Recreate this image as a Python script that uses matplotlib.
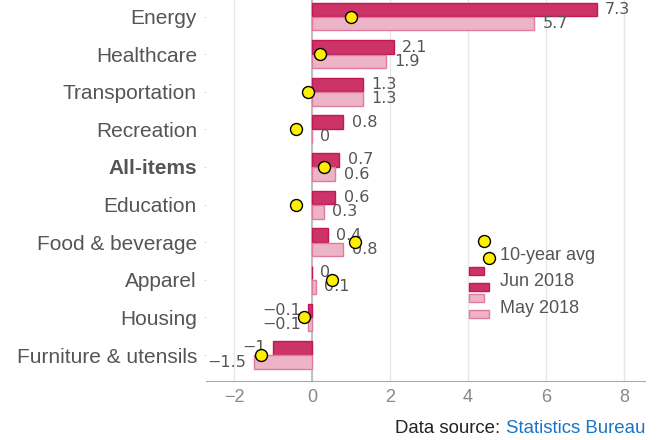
import matplotlib
matplotlib.use('Agg')
import matplotlib.pyplot as plt
import numpy as np
from matplotlib.legend_handler import HandlerBase
from matplotlib.patches import Rectangle
from matplotlib.lines import Line2D

# values (percent change)
categories = ['Energy', 'Healthcare', 'Transportation', 'Recreation', 'All-items',
              'Education', 'Food & beverage', 'Apparel', 'Housing', 'Furniture & utensils']
jun_2018 = [7.3, 2.1, 1.3, 0.8, 0.7, 0.6, 0.4, 0, -0.1, -1]
may_2018 = [5.7, 1.9, 1.3, 0, 0.6, 0.3, 0.8, 0.1, -0.1, -1.5]
avg_10yr = [1.0, 0.2, -0.1, -0.4, 0.3, -0.4, 1.1, 0.5, -0.2, -1.3]
xticks = [-2, 0, 2, 4, 6, 8]

JUN_FACE, JUN_EDGE = '#cc3366', '#c2185b'
MAY_FACE, MAY_EDGE = '#edb3c7', '#e07a9e'
DOT_FACE = '#ffee00'
TXT = '#555555'


class PairHandler(HandlerBase):
    # legend handle drawn as two offset copies, as in the reference
    def create_artists(self, legend, orig_handle, xdescent, ydescent,
                       width, height, fontsize, trans):
        x0 = -xdescent
        cy = height / 2 - ydescent
        if isinstance(orig_handle, Line2D):
            out = []
            for dx, dy in [(10.8, 8.6), (14.4, -3.6)]:
                out.append(Line2D([x0 + dx], [cy + dy], marker='o', ls='none',
                                  markersize=8.6, markerfacecolor=DOT_FACE,
                                  markeredgecolor='black', markeredgewidth=1,
                                  transform=trans))
            return out
        fc = orig_handle.get_facecolor()
        ec = orig_handle.get_edgecolor()
        r1 = Rectangle((x0, cy + 3.6), 10.8, 5.8, facecolor=fc, edgecolor=ec,
                       lw=1, transform=trans)
        r2 = Rectangle((x0, cy - 7.9), 14.4, 5.8, facecolor=fc, edgecolor=ec,
                       lw=1, transform=trans)
        return [r1, r2]


def fmt(v):
    return ('{:g}'.format(v)).replace('-', '\u2212')


fig = plt.figure(figsize=(6.57, 4.4), dpi=100)
ax = fig.add_axes([206 / 657, 59 / 440, 439 / 657, 381 / 440])

y = np.arange(len(categories))
h = 0.36
ax.barh(y - 0.19, jun_2018, height=h, color=JUN_FACE, edgecolor=JUN_EDGE,
        lw=1, zorder=3, label='Jun 2018')
ax.barh(y + 0.19, may_2018, height=h, color=MAY_FACE, edgecolor=MAY_EDGE,
        lw=1, zorder=3, label='May 2018')
ax.scatter(avg_10yr, y, s=74, c=DOT_FACE, edgecolors='black', linewidths=1,
           zorder=6, label='10-year avg')

for yy, v in zip(y - 0.19, jun_2018):
    ax.annotate(fmt(v), (v, yy), xytext=(6 if v >= 0 else -5, 0),
                textcoords='offset points', ha='left' if v >= 0 else 'right',
                va='center', fontsize=11.5, color=TXT, family='DejaVu Sans', zorder=5)
for yy, v in zip(y + 0.19, may_2018):
    ax.annotate(fmt(v), (v, yy), xytext=(6 if v >= 0 else -5, 0),
                textcoords='offset points', ha='left' if v >= 0 else 'right',
                va='center', fontsize=11.5, color=TXT, family='DejaVu Sans', zorder=5)

ax.set_xlim(-2.72, 8.54)
ax.set_ylim(9.69, -0.44)
ax.set_xticks(xticks)
ax.set_xticklabels([fmt(t) for t in xticks], family='Liberation Sans',
                   fontsize=13, color='#888888')
ax.set_yticks(y)
ax.set_yticklabels(categories, family='Liberation Sans', fontsize=15, color=TXT)
ax.get_yticklabels()[4].set_fontweight('bold')
ax.tick_params(axis='x', length=0, pad=6)
ax.tick_params(axis='y', length=1.5, color='#dddddd', pad=5)

ax.grid(axis='x', color='#e6e6e6', lw=1, zorder=0)
ax.axvline(0, color='#bbbbbb', lw=1.3, zorder=2)
for s in ['top', 'right', 'left']:
    ax.spines[s].set_visible(False)
ax.spines['bottom'].set_color('#aaaaaa')

handles = [Line2D([], [], marker='o', ls='none'),
           Rectangle((0, 0), 1, 1, facecolor=JUN_FACE, edgecolor=JUN_EDGE),
           Rectangle((0, 0), 1, 1, facecolor=MAY_FACE, edgecolor=MAY_EDGE)]
labels = ['10-year avg', 'Jun 2018', 'May 2018']
leg = fig.legend(handles, labels, loc='center left',
                 bbox_to_anchor=(469 / 657, 1 - 282 / 440),
                 bbox_transform=fig.transFigure, frameon=False,
                 borderpad=0, borderaxespad=0, handlelength=1.1,
                 handletextpad=0.6, labelspacing=0.55,
                 handler_map={Line2D: PairHandler(), Rectangle: PairHandler()},
                 prop={'family': 'Liberation Sans', 'size': 13})
for t in leg.get_texts():
    t.set_color(TXT)

src = fig.text(645 / 657, 1 - 428 / 440, 'Statistics Bureau', ha='right', va='center',
               family='Liberation Sans', fontsize=13.4, color='#1a75c4')
ax.annotate('Data source:', xy=(0, 0.5), xycoords=src, xytext=(-3.7, 0),
            textcoords='offset points', ha='right', va='center',
            family='Liberation Sans', fontsize=13.4, color='#222222',
            annotation_clip=False)

fig.savefig('out.png', dpi=100)
